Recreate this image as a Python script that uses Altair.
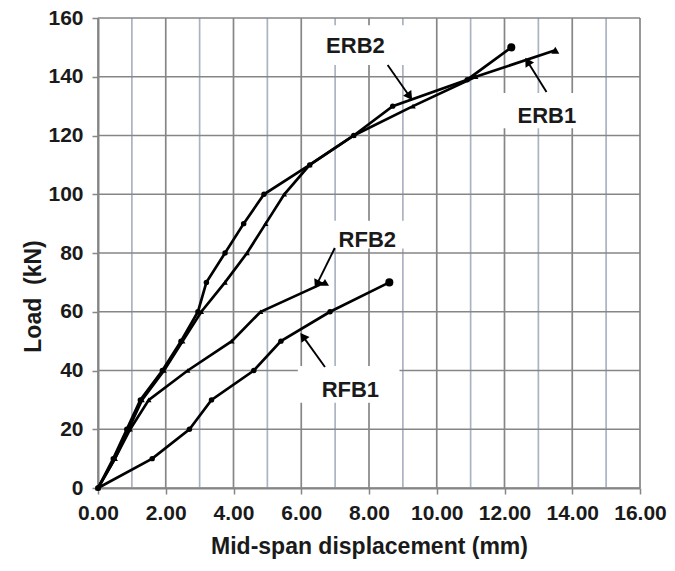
import math
import altair as alt
import pandas as pd

# ---------------- data ----------------
erb1_x = [0, 0.5, 0.9, 1.3, 1.95, 2.5, 3.05, 3.75, 4.4, 4.95, 5.5, 6.25, 7.55, 9.3, 11.15, 13.5]
erb1_y = [0, 10, 20, 30, 40, 50, 60, 70, 80, 90, 100, 110, 120, 130, 140, 149]

erb2_x = [0, 0.45, 0.85, 1.25, 1.9, 2.45, 2.95, 3.2, 3.75, 4.3, 4.9, 6.25, 7.55, 8.7, 10.9, 12.2]
erb2_y = [0, 10, 20, 30, 40, 50, 60, 70, 80, 90, 100, 110, 120, 130, 139, 150]

rfb1_x = [0, 1.6, 2.7, 3.35, 4.6, 5.4, 6.85, 8.6]
rfb1_y = [0, 10, 20, 30, 40, 50, 60, 70]

rfb2_x = [0, 0.5, 0.95, 1.5, 2.65, 3.95, 4.8, 6.7]
rfb2_y = [0, 10, 20, 30, 40, 50, 60, 70]

series_names = ["ERB1", "ERB2", "RFB1", "RFB2"]
series_shapes = ["triangle-up", "circle", "circle", "triangle-up"]

x_ticks = [0, 2, 4, 6, 8, 10, 12, 14, 16]
x_grid = list(range(0, 17))
y_ticks = [0, 20, 40, 60, 80, 100, 120, 140, 160]

# annotation labels
label_text = ["ERB2", "ERB1", "RFB2", "RFB1"]
label_x = [7.6, 13.25, 7.95, 7.45]
label_y = [150.5, 126.5, 84.5, 33.5]
# white boxes behind labels
box_x1 = [6.2, 11.7, 6.55, 5.9]
box_x2 = [9.2, 14.8, 9.2, 8.9]
box_y1 = [144, 122.5, 81.5, 29]
box_y2 = [157.5, 134.5, 91, 41.5]
# arrows (start -> tip)
arr_x1 = [8.55, 13.24, 6.99, 6.7]
arr_y1 = [144, 134.8, 81.7, 41.2]
arr_x2 = [9.2, 12.68, 6.46, 6.05]
arr_y2 = [133.3, 145.2, 69.3, 51.6]

# ---------------- tables ----------------
rows = []
for name, xs_, ys_ in [("ERB1", erb1_x, erb1_y), ("ERB2", erb2_x, erb2_y),
                       ("RFB1", rfb1_x, rfb1_y), ("RFB2", rfb2_x, rfb2_y)]:
    for i, (xv, yv) in enumerate(zip(xs_, ys_)):
        rows.append({"series": name, "idx": i, "x": xv, "y": yv,
                     "end": i == len(xs_) - 1})
curves = pd.DataFrame(rows)

W, H = 542, 470
XMAX, YMAX = 16, 160
sx, sy = W / XMAX, H / YMAX

arrows = pd.DataFrame({"x1": arr_x1, "y1": arr_y1, "x2": arr_x2, "y2": arr_y2})
arrows["ang"] = [
    (math.degrees(math.atan2((b - a) * sx, (d - c) * sy)) + 360) % 360
    for a, b, c, d in zip(arr_x1, arr_x2, arr_y1, arr_y2)
]
labels = pd.DataFrame({"t": label_text, "x": label_x, "y": label_y})
boxes = pd.DataFrame({"x1": box_x1, "x2": box_x2, "y1": box_y1, "y2": box_y2})
vgrid = pd.DataFrame({"x": x_grid, "odd": [v % 2 == 1 for v in x_grid]})
hgrid = pd.DataFrame({"y": y_ticks})

FONT = "Liberation Sans"
GRID = "#868686"

xs = alt.Scale(domain=[0, XMAX], nice=False, zero=True)
ys = alt.Scale(domain=[0, YMAX], nice=False, zero=True)

x_axis = alt.Axis(values=x_ticks, format=".2f", grid=False, domain=True,
                  domainColor=GRID, domainWidth=2, tickColor=GRID, tickWidth=1.5,
                  tickSize=6, labelFont=FONT, labelFontWeight="bold", labelFontSize=21,
                  labelColor="#1a1a1a", labelPadding=8, labelFlush=False,
                  title="Mid-span displacement (mm)", titleFont=FONT,
                  titleFontWeight="bold", titleFontSize=23, titleColor="#1a1a1a",
                  titlePadding=12)
y_axis = alt.Axis(values=y_ticks, format="d", grid=False, domain=True,
                  domainColor=GRID, domainWidth=2, tickColor=GRID, tickWidth=1.5,
                  tickSize=6, labelFont=FONT, labelFontWeight="bold", labelFontSize=21,
                  labelColor="#1a1a1a", labelPadding=9,
                  title="Load\u00a0\u00a0(kN)", titleFont=FONT, titleFontWeight="bold",
                  titleFontSize=23, titleColor="#1a1a1a", titleAngle=270,
                  titleX=-58, titleY=278, titleAlign="center", titleBaseline="alphabetic")

base_x = alt.X("x:Q", scale=xs, axis=x_axis)
base_y = alt.Y("y:Q", scale=ys, axis=y_axis)

vlines = alt.Chart(vgrid).mark_rule(strokeWidth=1.7).encode(
    x=alt.X("x:Q", scale=xs, axis=x_axis),
    color=alt.Color("odd:N", scale=alt.Scale(domain=[False, True], range=[GRID, "#aab3c3"]), legend=None),
)
hlines = alt.Chart(hgrid).mark_rule(strokeWidth=1.7, color=GRID).encode(
    y=alt.Y("y:Q", scale=ys, axis=y_axis),
)

rects = alt.Chart(boxes).mark_rect(color="white").encode(
    x=alt.X("x1:Q", scale=xs, axis=x_axis), x2="x2:Q",
    y=alt.Y("y1:Q", scale=ys, axis=y_axis), y2="y2:Q",
)

lines = alt.Chart(curves).mark_line(strokeWidth=2.7, color="black").encode(
    x=base_x, y=base_y, detail="series:N", order="idx:Q",
)

pts = alt.Chart(curves).mark_point(filled=True, color="black", opacity=1).encode(
    x=base_x, y=base_y,
    shape=alt.Shape("series:N", scale=alt.Scale(domain=series_names, range=series_shapes), legend=None),
    size=alt.Size("end:N", scale=alt.Scale(domain=[False, True], range=[30, 65]), legend=None),
)

arr_lines = alt.Chart(arrows).mark_rule(strokeWidth=1.9, color="black").encode(
    x=alt.X("x1:Q", scale=xs, axis=x_axis), y=alt.Y("y1:Q", scale=ys, axis=y_axis),
    x2="x2:Q", y2="y2:Q",
)
arr_heads = alt.Chart(arrows).mark_point(shape="triangle-up", filled=True, color="black",
                                         opacity=1, size=100).encode(
    x=alt.X("x2:Q", scale=xs, axis=x_axis), y=alt.Y("y2:Q", scale=ys, axis=y_axis),
    angle=alt.Angle("ang:Q", scale=None),
)

texts = alt.Chart(labels).mark_text(font=FONT, fontWeight="bold", fontSize=22,
                                    color="#1a1a1a", align="center", baseline="middle").encode(
    x=alt.X("x:Q", scale=xs, axis=x_axis), y=alt.Y("y:Q", scale=ys, axis=y_axis), text="t:N",
)

chart = alt.layer(vlines, hlines, rects, lines, pts, arr_lines, arr_heads, texts).resolve_scale(
    color="independent"
).properties(
    width=W, height=H,
    autosize=alt.AutoSizeParams(type="none"),
    padding={"left": 98, "top": 18, "right": 35, "bottom": 83},
    background="white",
).configure_view(stroke=None)

chart.save("out.html", embed_options={"renderer": "svg", "actions": False})
